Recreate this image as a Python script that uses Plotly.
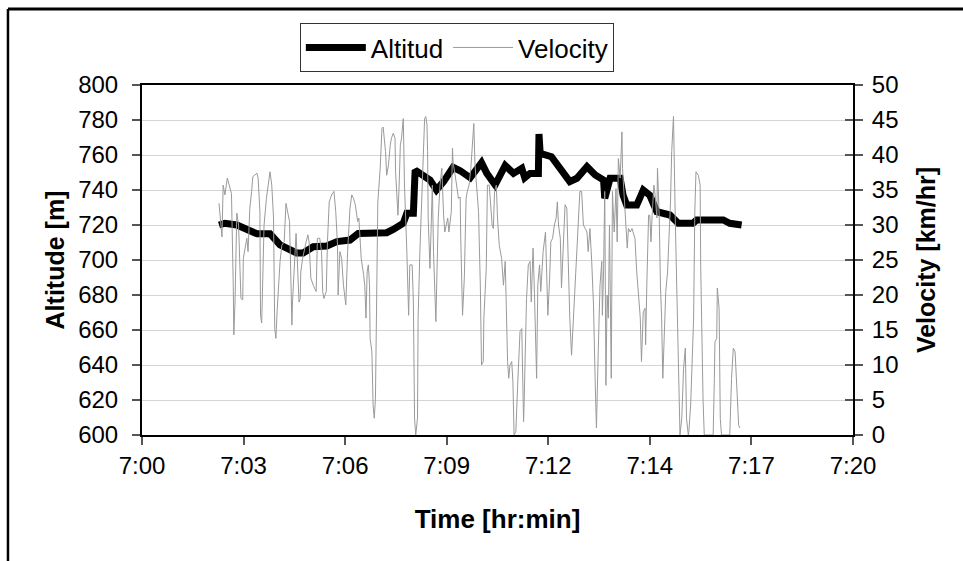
import plotly.graph_objects as go

# ---- data (seconds after 7:00) ----
alt_t = [130, 140, 160, 177, 194, 216, 233, 261, 272, 289, 312, 329, 351, 365, 413, 424, 441, 447,
         458, 461, 475, 486, 497, 509, 525, 537, 554, 573, 582, 596, 613, 627, 641, 646, 655, 669,
         670, 672, 691, 705, 722, 734, 751, 765, 779, 781, 790, 807, 812, 818, 835, 846, 857, 869,
         891, 905, 930, 936, 981, 992, 1012]
alt_v = [720, 721, 720, 717.5, 715, 715, 708.6, 704, 704, 707.6, 708, 710.5, 711.4, 715.2, 715.6,
         717.5, 721, 726.7, 726.7, 751.4, 748.6, 745.7, 740, 744.8, 753, 751, 747, 755.6, 749.5,
         742.9, 754, 749.5, 752.4, 747, 749.5, 749.5, 772, 761, 759, 753.3, 744.8, 746.7, 753.3,
         748.6, 745.7, 735.2, 746.7, 746.7, 737, 731.4, 731.4, 740, 737, 727.6, 725.7, 721, 721,
         722.9, 722.9, 721, 720]

vel_t = [130, 135, 137, 140, 144, 147, 151, 154, 155, 157, 160, 163, 167, 170, 171, 174, 177, 179,
         182, 185, 187, 194, 196, 199, 200, 202, 204, 206, 210, 213, 216, 219, 222, 224, 226, 228,
         230, 233, 236, 240, 243, 246, 249, 251, 253, 254, 257, 260, 262, 265, 267, 268, 271, 273,
         277, 280, 282, 285, 289, 294, 296, 300, 303, 305, 307, 311, 313, 316, 320, 324, 327, 330,
         331, 334, 337, 340, 343, 344, 347, 351, 354, 357, 360, 362, 364, 366, 370, 374, 376, 378,
         380, 382, 384, 385, 388, 390, 392, 394, 396, 398, 402, 405, 407, 409, 411, 413, 416, 419,
         421, 424, 427, 428, 430, 432, 434, 436, 438, 441, 443, 445, 447, 450, 452, 456, 458, 460,
         462, 465, 466, 469, 471, 475, 477, 479, 481, 482, 483, 486, 488, 490, 492, 495, 496, 498,
         500, 503, 506, 509, 511, 516, 518, 522, 524, 525, 528, 531, 534, 537, 538, 541, 544, 547,
         549, 552, 555, 558, 560, 562, 565, 568, 571, 573, 576, 577, 581, 583, 586, 589, 591, 593,
         595, 598, 600, 603, 607, 610, 613, 614, 617, 619, 621, 624, 626, 628, 631, 634, 636, 638,
         641, 644, 645, 647, 649, 652, 655, 657, 658, 660, 662, 664, 666, 668, 671, 673, 675, 677,
         681, 683, 685, 688, 690, 693, 696, 699, 701, 703, 706, 708, 711, 714, 717, 719, 722, 725,
         728, 731, 734, 736, 739, 742, 745, 748, 751, 753, 756, 759, 762, 765, 767, 770, 773, 776,
         777, 779, 781, 783, 785, 787, 789, 792, 794, 797, 800, 802, 804, 807, 810, 811, 814, 816,
         819, 821, 824, 827, 832, 835, 838, 841, 843, 846, 849, 850, 852, 855, 857, 859, 861, 864,
         866, 869, 870, 873, 875, 877, 879, 882, 884, 887, 890, 892, 894, 896, 897, 900, 903, 905,
         908, 911, 914, 917, 919, 922, 923, 926, 931, 933, 935, 939, 942, 943, 945, 947, 949, 964,
         966, 967, 970, 971, 974, 976, 978, 992, 995, 998, 1001, 1004, 1007, 1009]
vel_v = [33.1, 28.3, 35.7, 34.3, 36.7, 35.7, 34.5, 21.4, 14.3, 19, 31.7, 30, 19.5, 19.3, 25.2, 26.7,
         28.1, 26.2, 32.4, 34.8, 36.9, 37.4, 36.7, 31.9, 17.1, 16, 23.3, 30, 33.8, 35.7, 37.6, 35.7,
         31, 15.2, 13.8, 17.6, 20.5, 24.8, 27.1, 27.6, 33.1, 31.9, 30.5, 23.3, 15.7, 19, 24.3, 28.8,
         25.2, 19, 19.5, 23.3, 25.2, 26.2, 27.6, 28.6, 27.6, 22.4, 21.4, 20.5, 28.1, 28.1, 26.2,
         20.5, 19.5, 20.5, 27.6, 33.3, 34.3, 34.8, 31.9, 27.1, 20, 26.2, 25.2, 21.4, 19, 18.6, 26.2,
         32.4, 34.3, 33.8, 32.9, 31.4, 30.5, 31, 25.2, 22.9, 21.4, 16.7, 23.3, 24.3, 21.4, 13.8,
         11.9, 4.3, 2.4, 5.2, 23.3, 33.3, 38.1, 43.8, 44, 42.4, 40.5, 37.1, 38.6, 41.4, 42.4, 43.1,
         42.4, 37.6, 33.3, 31.4, 35.7, 41.4, 42.4, 45.2, 35.7, 31.9, 26.2, 17.1, 24.3, 24.3, 19,
         2.4, 0, 2.4, 16.7, 26.2, 31, 37.6, 45.2, 45.5, 44.3, 40.5, 31, 23.8, 31, 35.7, 26.2, 16.7,
         16.2, 23.8, 31, 35.7, 38.1, 31.4, 29, 31, 29, 31.9, 41, 39, 37.6, 35.7, 33.8, 34, 28, 17.1,
         22.4, 33.8, 34.8, 35.7, 38.1, 42.9, 44.5, 38.6, 35.7, 31.9, 21.4, 10, 10.5, 16.7, 23.8,
         35.7, 35.7, 32.9, 30, 29.5, 34.8, 35.7, 31, 27.1, 25.2, 21.4, 24.8, 21.4, 10.5, 8.1, 10,
         10.5, 7.6, 0, 0.5, 7.1, 11, 14.8, 15.2, 1.9, 4.8, 11.9, 19.5, 24.3, 24.8, 19, 23.3, 26.7,
         21.4, 11.9, 8.1, 21.4, 24.3, 20.5, 24.3, 26.2, 29, 21.4, 17.1, 22.4, 27.6, 28.1, 30, 31,
         33.3, 30, 28.1, 21, 26.2, 32.9, 32.4, 26.2, 16.7, 11.4, 16.7, 21.4, 26.2, 31, 34.8, 34.8,
         30, 29.5, 29, 26.2, 29.5, 24.8, 18.6, 7.1, 1, 11.9, 21.4, 24.8, 17.1, 23.3, 34.8, 7.1, 20,
         16.7, 30, 8.1, 34.8, 29, 35.2, 27.6, 39.5, 36.7, 43.3, 38.1, 34.3, 31, 26.7, 29.5, 29,
         29.5, 28.1, 23.3, 20, 16.7, 10.5, 17.6, 18.1, 12.9, 21.4, 31.4, 31.4, 27.6, 31.4, 35.7,
         34.3, 31, 38.1, 31, 21.4, 16.7, 8.1, 16.7, 20.5, 23.3, 28.6, 33.3, 40.5, 42.9, 45.5, 31,
         19, 7.1, 0, 2.4, 9.5, 12.4, 2.4, 0, 0.5, 4.3, 16.7, 31.9, 37.6, 37.1, 35.7, 23.8, 11.9,
         4.8, 0, 0, 8.1, 13.3, 13.8, 21, 18.1, 2.4, 0, 0, 8.1, 12.4, 11.9, 7.1, 1.4, 1]

tick_text = ["7:00", "7:03", "7:06", "7:09", "7:12", "7:14", "7:17", "7:20"]
x_span = 1200  # 7:00 -> 7:20 in seconds

FONT = "Liberation Sans, Arial, sans-serif"

fig = go.Figure()
fig.add_trace(go.Scatter(x=alt_t, y=alt_v, name="Altitud", mode="lines",
                         line=dict(color="black", width=7), yaxis="y"))
fig.add_trace(go.Scatter(x=vel_t, y=vel_v, name="Velocity", mode="lines",
                         line=dict(color="#9a9a9a", width=1), yaxis="y2"))

n = len(tick_text) - 1
tickvals = [x_span * i / n for i in range(n + 1)]

fig.update_layout(
    width=963, height=561,
    margin=dict(l=142, r=110, t=85, b=126),
    paper_bgcolor="white", plot_bgcolor="white",
    font=dict(family=FONT, size=24, color="black"),
    showlegend=True,
    legend=dict(orientation="h", x=0.222, y=1.177, xanchor="left", yanchor="top",
                bgcolor="white", bordercolor="#333333", borderwidth=1,
                font=dict(size=26), itemwidth=60, traceorder="normal"),
    xaxis=dict(range=[0, x_span], tickvals=tickvals, ticktext=tick_text,
               showgrid=False, zeroline=False, showline=True, linecolor="black", linewidth=2,
               mirror=True, ticks="outside", ticklen=8, tickwidth=1.5, tickcolor="#555555",
               title=dict(text="<b>Time [hr:min]</b>", font=dict(size=26), standoff=32)),
    yaxis=dict(range=[600, 800], dtick=20, tick0=600,
               showgrid=True, gridcolor="#d4d4d4", gridwidth=1, zeroline=False,
               showline=True, linecolor="black", linewidth=2, mirror="ticks",
               ticks="outside", ticklen=8, tickwidth=1.5, tickcolor="#555555",
               ticklabelstandoff=9,
               title=dict(text="<b>Altitude [m]</b>", font=dict(size=25), standoff=6)),
    yaxis2=dict(range=[0, 50], dtick=5, tick0=0, overlaying="y", side="right",
                showgrid=False, zeroline=False, showline=True, linecolor="black", linewidth=2,
                ticks="inside", ticklen=8, tickwidth=1.5, tickcolor="#555555",
                ticklabelstandoff=12,
                title=dict(text="<b>Velocity [km/hr]</b>", font=dict(size=25), standoff=20)),
    shapes=[
        dict(type="line", xref="paper", yref="paper", x0=-0.1885, x1=1.3, y0=1.217, y1=1.217,
             line=dict(color="black", width=3)),
        dict(type="line", xref="paper", yref="paper", x0=-0.1885, x1=-0.1885, y0=1.217, y1=-0.6,
             line=dict(color="black", width=2.5)),
    ],
)

fig.write_html("out.html")
